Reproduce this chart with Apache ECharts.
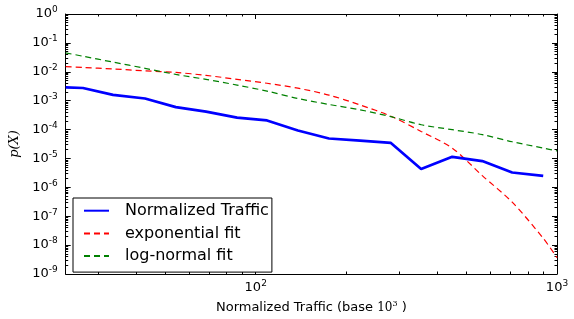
<!DOCTYPE html>
<html>
<head>
<meta charset="utf-8">
<script src="https://cdn.jsdelivr.net/npm/echarts@6/dist/echarts.min.js"></script>
<style>
  html, body { margin: 0; padding: 0; background: #fff; }
  #chart { width: 574px; height: 319px; }
</style>
</head>
<body>
<div id="chart"></div>
<script>
// bins (normalized traffic, base 10^3)
var trafficBins = [23.4, 26.7, 33.6, 42.9, 54.3, 68.4, 86.7, 109, 138, 175, 222, 281, 354, 449, 565, 710, 900];
var observed = [2.88e-3, 2.75e-3, 1.59e-3, 1.19e-3, 6.0e-4, 4.19e-4, 2.58e-4, 2.07e-4, 9.3e-5, 4.9e-5, 4.16e-5, 3.44e-5, 4.33e-6, 1.14e-5, 8.1e-6, 3.27e-6, 2.5e-6];

// fitted curves, read at the same bins plus the right edge
var fitX = [23.4, 26.7, 33.6, 42.9, 54.3, 68.4, 86.7, 109, 138, 175, 222, 281, 354, 449, 565, 710, 900, 1000];
var expFit = [1.51e-2, 1.41e-2, 1.25e-2, 1.08e-2, 9.5e-3, 7.5e-3, 5.47e-3, 4.0e-3, 2.7e-3, 1.56e-3, 7.1e-4, 2.9e-4, 8.6e-5, 2.28e-5, 2.54e-6, 3.06e-7, 1.72e-8, 3.67e-9];
var logNormFit = [4.53e-2, 3.45e-2, 2.16e-2, 1.32e-2, 8.1e-3, 5.47e-3, 3.47e-3, 2.14e-3, 1.19e-3, 7.4e-4, 4.83e-4, 2.79e-4, 1.47e-4, 9.9e-5, 6.7e-5, 3.79e-5, 2.28e-5, 1.83e-5];

function pairs(xs, ys) {
  return xs.map(function (x, i) { return [x, ys[i]]; });
}

// 10^k labels, blank for anything that isn't a power of ten
function powLabel(v) {
  var e = Math.log10(v);
  var r = Math.round(e);
  if (Math.abs(e - r) > 1e-6) return '';
  return '{b|10}{s|' + r + '}';
}

var tickRich = {
  b: { fontFamily: 'DejaVu Sans', fontSize: 13, color: '#000' },
  s: { fontFamily: 'DejaVu Sans', fontSize: 9, color: '#000', padding: [0, 0, 8, 0] }
};

function logAxis(pos, min, max, showLabel) {
  return {
    type: 'log',
    logBase: 10,
    position: pos,
    min: min,
    max: max,
    axisLine: { show: true, lineStyle: { color: '#000', width: 1 } },
    axisTick: { show: true, inside: true, length: 5, lineStyle: { color: '#000', width: 1 } },
    minorTick: { show: true, splitNumber: 9, length: 2.5, lineStyle: { color: '#000', width: 1 } },
    splitLine: { show: false },
    minorSplitLine: { show: false },
    axisLabel: { show: showLabel, formatter: powLabel, rich: tickRich }
  };
}

var chart = echarts.init(document.getElementById('chart'));

var xBottom = logAxis('bottom', 23.4, 1000, true);
xBottom.axisLabel.margin = 5;
xBottom.name = '{n|Normalized Traffic (base }{m|10}{ms|3}{n| )}';
xBottom.nameLocation = 'middle';
xBottom.nameGap = 26;
xBottom.nameTextStyle = {
  rich: {
    n: { fontFamily: 'DejaVu Sans', fontSize: 13, color: '#000' },
    m: { fontFamily: 'DejaVu Serif', fontSize: 12, color: '#000' },
    ms: { fontFamily: 'DejaVu Serif', fontSize: 8, color: '#000', padding: [0, 0, 7, 0] }
  }
};
var xTop = logAxis('top', 23.4, 1000, false);

var yLeft = logAxis('left', 1e-9, 1, true);
yLeft.axisLabel.margin = 8;
yLeft.name = 'p(X)';
yLeft.nameLocation = 'middle';
yLeft.nameGap = 36;
yLeft.nameTextStyle = { fontFamily: 'DejaVu Serif', fontStyle: 'italic', fontSize: 13, color: '#000' };
var yRight = logAxis('right', 1e-9, 1, false);

chart.setOption({
  animation: false,
  backgroundColor: '#fff',
  grid: { left: 65.7, right: 17, top: 14, bottom: 40.4, containLabel: false },
  legend: {
    orient: 'vertical',
    left: 73,
    top: 198,
    padding: [4.7, 3, 8, 10],
    itemWidth: 25,
    itemHeight: 14,
    itemGap: 6.7,
    borderColor: '#000',
    borderWidth: 1,
    borderRadius: 0,
    backgroundColor: '#fff',
    itemStyle: { opacity: 0 },
    textStyle: { fontFamily: 'DejaVu Sans', fontSize: 16, lineHeight: 16, color: '#000', padding: [0, 0, 0, 11] },
    data: ['Normalized Traffic', 'exponential fit', 'log-normal fit']
  },
  xAxis: [xBottom, xTop],
  yAxis: [yLeft, yRight],
  series: [
    {
      name: 'Normalized Traffic',
      type: 'line',
      data: pairs(trafficBins, observed),
      symbol: 'none',
      lineStyle: { color: '#0000ff', width: 2.7 },
      itemStyle: { color: '#0000ff' },
      z: 3
    },
    {
      name: 'exponential fit',
      type: 'line',
      data: pairs(fitX, expFit),
      symbol: 'none',
      smooth: 0.3,
      lineStyle: { color: '#ff0000', width: 1.2, type: [6, 4] },
      itemStyle: { color: '#ff0000' },
      z: 2
    },
    {
      name: 'log-normal fit',
      type: 'line',
      data: pairs(fitX, logNormFit),
      symbol: 'none',
      smooth: 0.3,
      lineStyle: { color: '#008000', width: 1.2, type: [6, 4] },
      itemStyle: { color: '#008000' },
      z: 2
    }
  ]
});
</script>
</body>
</html>
